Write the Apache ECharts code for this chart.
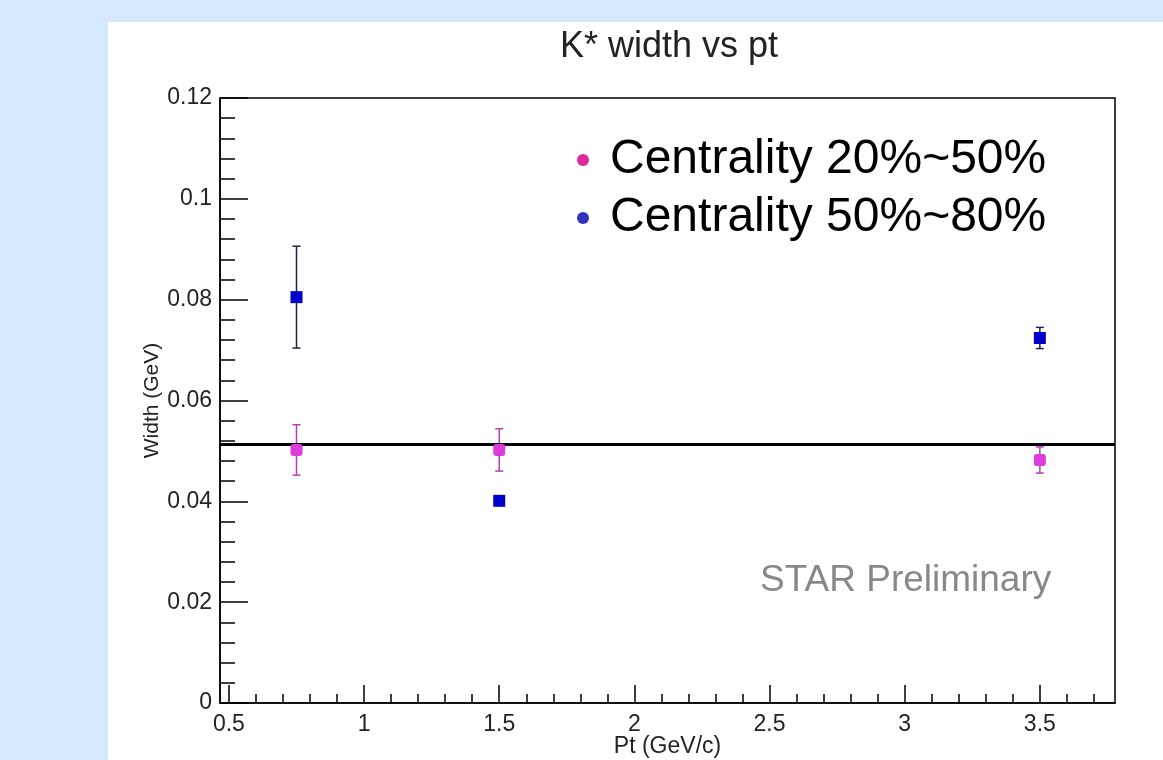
<!DOCTYPE html>
<html>
<head>
<meta charset="utf-8">
<script src="https://cdn.jsdelivr.net/npm/echarts@6/dist/echarts.min.js"></script>
<style>
html,body{margin:0;padding:0;background:#d6e8fc;}
#chart{width:1163px;height:760px;}
</style>
</head>
<body>
<div id="chart"></div>
<script>
// ---- data ----
const seriesNames = ['Centrality 20%~50%', 'Centrality 50%~80%'];
const ptValues = [0.75, 1.5, 3.5];
const widthCent2050 = [0.0502, 0.0502, 0.0482];
const errCent2050 = [0.0050, 0.0042, 0.0026];
const widthCent5080 = [0.0805, 0.0401, 0.0724];
const errCent5080 = [0.0101, 0.0, 0.0021];
const meanWidth = 0.0514;
const xMajorTicks = [0.5, 1, 1.5, 2, 2.5, 3, 3.5];
const xMinorTicks = [0.6,0.7,0.8,0.9,1.1,1.2,1.3,1.4,1.6,1.7,1.8,1.9,2.1,2.2,2.3,2.4,2.6,2.7,2.8,2.9,3.1,3.2,3.3,3.4,3.6,3.7];
const titleText = 'K* width vs pt';
const xTitle = 'Pt (GeV/c)';
const yTitle = 'Width (GeV)';
const watermark = 'STAR Preliminary';

const FONT = "'Liberation Sans', Arial, Helvetica, sans-serif";
const X_MIN = 0.467, X_MAX = 3.778;

function pts(xs, ys) { return xs.map((x, i) => [x, ys[i]]); }
function errData(xs, ys, es) { return xs.map((x, i) => [x, ys[i] - es[i], ys[i] + es[i]]); }

function errRender(color) {
  return function (params, api) {
    const lo = api.coord([api.value(0), api.value(1)]);
    const hi = api.coord([api.value(0), api.value(2)]);
    if (Math.abs(hi[1] - lo[1]) < 1) return null;
    const cap = 4;
    const style = { stroke: color, lineWidth: 1.5 };
    return {
      type: 'group',
      children: [
        { type: 'line', shape: { x1: lo[0], y1: lo[1], x2: hi[0], y2: hi[1] }, style },
        { type: 'line', shape: { x1: lo[0] - cap, y1: lo[1], x2: lo[0] + cap, y2: lo[1] }, style },
        { type: 'line', shape: { x1: hi[0] - cap, y1: hi[1], x2: hi[0] + cap, y2: hi[1] }, style }
      ]
    };
  };
}

const chart = echarts.init(document.getElementById('chart'));
const tickLabelStyle = { color: '#222', fontSize: 23, fontFamily: FONT };

chart.setOption({
  animation: false,
  backgroundColor: '#d6e8fc',
  graphic: [
    { type: 'rect', z: -10, shape: { x: 108, y: 22, width: 1055, height: 738 }, style: { fill: '#ffffff' } },
    { type: 'text', left: 760, top: 562, style: { text: watermark, fill: '#888888', fontSize: 37, fontFamily: FONT } }
  ],
  title: {
    text: titleText, left: 555, top: 24,
    textStyle: { fontSize: 36, fontWeight: 'normal', color: '#222', fontFamily: FONT }
  },
  legend: {
    orient: 'vertical', left: 572, top: 126, itemGap: 0,
    itemWidth: 44, itemHeight: 12, icon: 'circle',
    textStyle: { fontSize: 48, color: '#000', fontFamily: FONT, lineHeight: 58 },
    data: [
      { name: seriesNames[0], itemStyle: { color: '#e0289a' } },
      { name: seriesNames[1], itemStyle: { color: '#3232c0' } }
    ],
    selectedMode: false
  },
  grid: {
    left: 220, right: 48, top: 98, bottom: 57,
    outerBoundsMode: 'none', containLabel: false,
    show: true, borderColor: '#000', borderWidth: 1.5, backgroundColor: 'transparent'
  },
  xAxis: [
    {
      type: 'value', min: X_MIN, max: X_MAX,
      name: xTitle, nameLocation: 'middle', nameGap: 32, nameMoveOverlap: false,
      nameTextStyle: { fontSize: 23, color: '#222', fontFamily: FONT },
      axisLine: { show: true, lineStyle: { color: '#000', width: 1.5 } },
      axisTick: { show: true, inside: true, length: 18, customValues: xMajorTicks, lineStyle: { color: '#000', width: 1.5 } },
      axisLabel: Object.assign({ customValues: xMajorTicks, margin: 10 }, tickLabelStyle),
      splitLine: { show: false }
    },
    {
      type: 'value', min: X_MIN, max: X_MAX, position: 'bottom',
      axisLine: { show: false },
      axisTick: { show: true, inside: true, length: 9, customValues: xMinorTicks, lineStyle: { color: '#000', width: 1.5 } },
      axisLabel: { show: false },
      splitLine: { show: false }
    }
  ],
  yAxis: {
    type: 'value', min: 0, max: 0.12, interval: 0.02,
    name: yTitle, nameLocation: 'middle', nameGap: 57, nameRotate: 90, nameMoveOverlap: false,
    nameTextStyle: { fontSize: 21, color: '#222', fontFamily: FONT },
    axisLine: { show: true, lineStyle: { color: '#000', width: 1.5 } },
    axisTick: { show: true, inside: true, length: 28, lineStyle: { color: '#000', width: 1.5 } },
    minorTick: { show: true, splitNumber: 5, length: 15, lineStyle: { color: '#000', width: 1.5 } },
    axisLabel: Object.assign({ margin: 8 }, tickLabelStyle),
    splitLine: { show: false }
  },
  series: [
    {
      name: 'err2050', type: 'custom', xAxisIndex: 0, renderItem: errRender('#b040b8'),
      data: errData(ptValues, widthCent2050, errCent2050), z: 3, silent: true
    },
    {
      name: 'err5080', type: 'custom', xAxisIndex: 0, renderItem: errRender('#202048'),
      data: errData(ptValues, widthCent5080, errCent5080), z: 3, silent: true
    },
    {
      name: seriesNames[0], type: 'scatter', xAxisIndex: 0,
      symbol: 'roundRect', symbolSize: 12,
      itemStyle: { color: '#dc3cdc', opacity: 1 },
      data: pts(ptValues, widthCent2050), z: 5,
      markLine: {
        silent: true, symbol: 'none', label: { show: false }, precision: 5,
        lineStyle: { color: '#000', width: 3, type: 'solid' },
        data: [{ yAxis: meanWidth }]
      }
    },
    {
      name: seriesNames[1], type: 'scatter', xAxisIndex: 0,
      symbol: 'rect', symbolSize: 12,
      itemStyle: { color: '#0000c8', opacity: 1 },
      data: pts(ptValues, widthCent5080), z: 5
    }
  ]
});
</script>
</body>
</html>
